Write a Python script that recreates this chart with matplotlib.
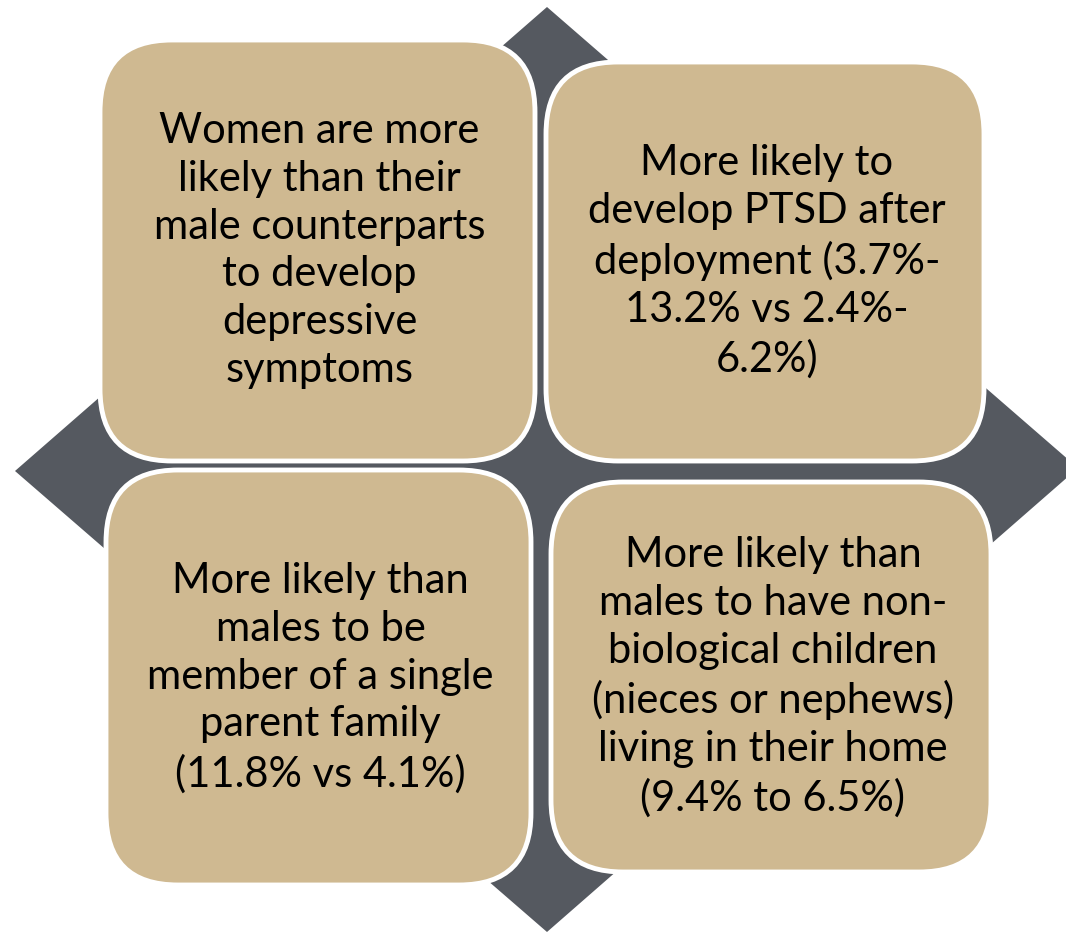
import matplotlib.pyplot as plt
from matplotlib.patches import FancyBboxPatch, Polygon

# Panel texts, top-left, top-right, bottom-left, bottom-right
panel_texts = [
    "Women are more\nlikely than their\nmale counterparts\nto develop\ndepressive\nsymptoms",
    "More likely to\ndevelop PTSD after\ndeployment (3.7%-\n13.2% vs 2.4%-\n6.2%)",
    "More likely than\nmales to be\nmember of a single\nparent family\n(11.8% vs 4.1%)",
    "More likely than\nmales to have non-\nbiological children\n(nieces or nephews)\nliving in their home\n(9.4% to 6.5%)",
]

# Box extents in pixels: left, top, right, bottom
boxes = [
    (100, 40, 535, 461),
    (546, 62, 984, 461),
    (106, 470, 531, 885),
    (551, 482, 991, 872),
]

gold = "#CFB991"
steel = "#555960"

fig = plt.figure(figsize=(10.66, 9.32), dpi=100)
ax = fig.add_axes([0, 0, 1, 1])
ax.set_xlim(0, 1066)
ax.set_ylim(932, 0)
ax.axis("off")

# background rhombus
ax.add_patch(Polygon([(547, 7), (1078, 468), (547, 932), (15, 471)],
                     closed=True, facecolor=steel, edgecolor="none", zorder=1))

for (l, t, r, b), txt in zip(boxes, panel_texts):
    ax.add_patch(FancyBboxPatch((l, t), r - l, b - t,
                                boxstyle="round,pad=0,rounding_size=72",
                                facecolor=gold, edgecolor="white", linewidth=3.5,
                                zorder=2))
    ax.text((l + r) / 2 + 2, (t + b) / 2, txt, ha="center", va="center",
            fontsize=30, family="Lato", color="black", linespacing=1.32, zorder=3)

plt.savefig("out.png", dpi=100)
